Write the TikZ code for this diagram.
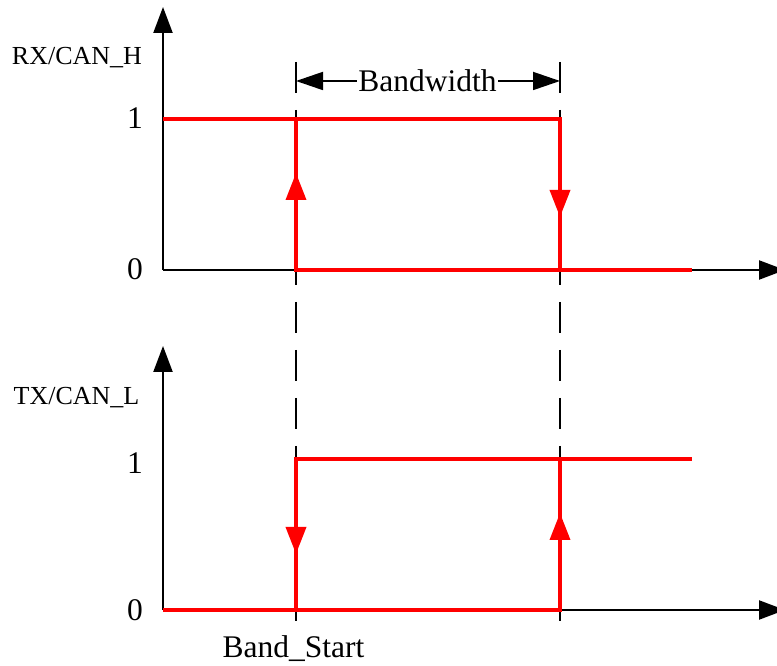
\documentclass[tikz,border=0pt]{standalone}
\usepackage{fontspec}
\setmainfont{Liberation Serif}
\usetikzlibrary{arrows.meta}

\begin{document}
\begin{tikzpicture}[x=1pt, y=1pt,
  axis/.style={line width=2.2pt, -{Triangle[length=26pt,width=19pt]}},
  sig/.style={red, line width=3.6pt},
  sigarrow/.style={red, line width=3.6pt, -{Triangle[length=27pt,width=20pt]}},
  guide/.style={line width=1.6pt, dash pattern=on 31pt off 17pt},
  big/.style={inner sep=0pt, font=\fontsize{31.5}{36}\selectfont},
  small/.style={inner sep=0pt, font=\fontsize{26}{30}\selectfont}]
\useasboundingbox (0,0) rectangle (777,666);
\clip (0,0) rectangle (777,666);
% axes
\draw[axis] (163,396) -- (163,659);
\draw[axis] (163,396) -- (785,396);
\draw[axis] (163,56) -- (163,320);
\draw[axis] (163,56) -- (785,56);
\node[small, anchor=base] (rx) at (77,601) {RX/CAN\_H};
\node[small, anchor=base] (tx) at (76.5,261) {TX/CAN\_L};
\node[big, anchor=east] (rx1) at (143,548) {1};
\node[big, anchor=east] (rx0) at (143,396.5) {0};
\node[big, anchor=east] (tx1) at (143,203) {1};
\node[big, anchor=east] (tx0) at (143,56) {0};
% guides
\draw[guide] (296,604) -- (296,45);
\draw[guide] (560,604) -- (560,45);
\coordinate (bl) at (296,585);
\coordinate (br) at (560,585);
\node[big, inner sep=1.5pt] (bw) at (427.5,585) {Bandwidth};
\draw[line width=1.8pt, -{Triangle[length=27pt,width=18pt]}] (bw.west) -- (bl);
\draw[line width=1.8pt, -{Triangle[length=27pt,width=18pt]}] (bw.east) -- (br);
\node[big, anchor=base] (bs) at (293.5,8) {Band\_Start};
% RX signal
\draw[sig] (163,547) -- (560,547) -- (560,396);
\draw[sig] (296,547) -- (296,396) -- (692,396);
\draw[sigarrow] (296,396) -- (296,493);
\draw[sigarrow] (560,547) -- (560,449);
% TX signal
\draw[sig] (163,56) -- (560,56) -- (560,207);
\draw[sig] (296,56) -- (296,207) -- (692,207);
\draw[sigarrow] (296,207) -- (296,112);
\draw[sigarrow] (560,56) -- (560,153);
\end{tikzpicture}
\end{document}
